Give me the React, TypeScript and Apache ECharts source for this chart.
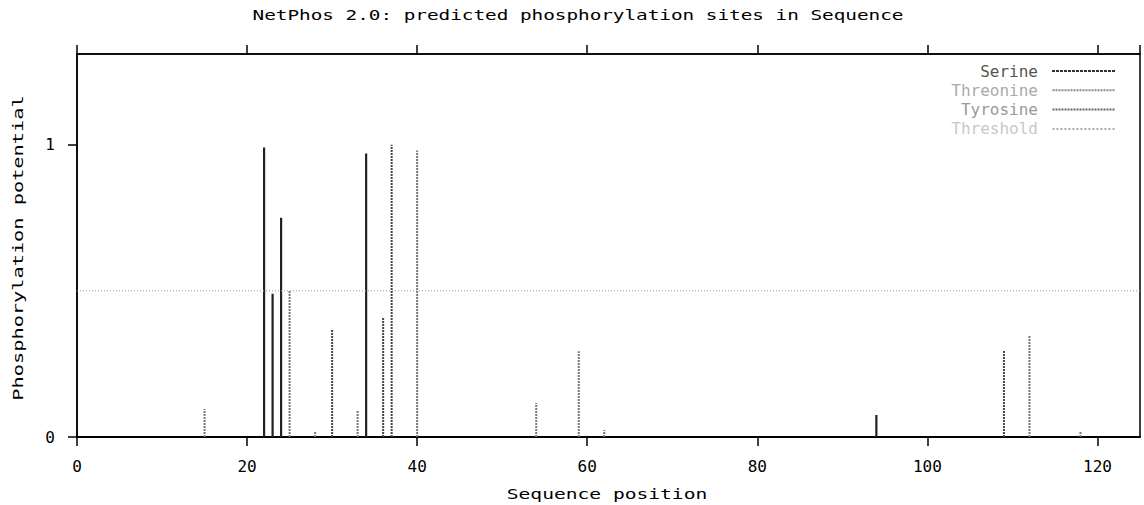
import React, { useEffect, useRef } from "react";
import * as echarts from "echarts";

const titleText = "NetPhos 2.0: predicted phosphorylation sites in Sequence";
const xName = "Sequence position";
const yName = "Phosphorylation potential";

const serinePos = [22, 23, 24, 34, 94];
const serineVal = [0.99, 0.49, 0.75, 0.97, 0.075];

const threoninePos = [15, 25, 28, 33, 40, 54, 59, 62, 112, 118];
const threonineVal = [0.096, 0.5, 0.02, 0.092, 0.98, 0.116, 0.293, 0.024, 0.348, 0.02];

const tyrosinePos = [30, 36, 37, 109];
const tyrosineVal = [0.367, 0.408, 1.0, 0.297];

const thresholdX = [0, 125];
const thresholdY = 0.5;

const seriesNames = ["Serine", "Threonine", "Tyrosine", "Threshold"];

function impulses(pos: number[], val: number[]) {
  const out: (number | null)[][] = [];
  pos.forEach((p, i) => {
    out.push([p, 0], [p, val[i]], [p, null]);
  });
  return out;
}

function dashIcon(step: number, dash: number) {
  let d = "path://";
  for (let x = 0; x + dash <= 64; x += step) {
    d += `M${x},0h${dash}v2h-${dash}z`;
  }
  return d;
}

const FONT = "DejaVu Sans Mono";

export default function App() {
  const ref = useRef<HTMLDivElement>(null);
  useEffect(() => {
    if (!ref.current) return;
    const chart = echarts.init(ref.current, undefined, { renderer: "svg" });
    chart.setOption({
      animation: false,
      backgroundColor: "#fff",
      grid: {
        left: 77,
        right: 4,
        top: 54,
        bottom: 68,
        show: true,
        borderColor: "#000",
        borderWidth: 1.5,
      },
      legend: {
        orient: "vertical",
        right: 24,
        top: 58,
        align: "right",
        itemWidth: 63,
        itemHeight: 2,
        itemGap: 3.3,
        textStyle: { fontFamily: FONT, fontSize: 16, padding: [0, 9, 0, 0] },
        data: [
          { name: seriesNames[0], icon: dashIcon(4, 3), textStyle: { color: "#555" } },
          { name: seriesNames[1], icon: dashIcon(3, 2), textStyle: { color: "#aaa" } },
          { name: seriesNames[2], icon: dashIcon(3, 2), textStyle: { color: "#999" } },
          { name: seriesNames[3], icon: dashIcon(4, 2), textStyle: { color: "#c8c8c8" } },
        ],
      },
      graphic: [
        {
          type: "text",
          x: 578,
          y: 15,
          scaleX: 1.38,
          style: {
            text: titleText,
            font: `14px "${FONT}"`,
            fill: "#000",
            textAlign: "center",
            textVerticalAlign: "middle",
          },
        },
        {
          type: "text",
          x: 607,
          y: 494,
          scaleX: 1.4,
          style: {
            text: xName,
            font: `14px "${FONT}"`,
            fill: "#000",
            textAlign: "center",
            textVerticalAlign: "middle",
          },
        },
        {
          type: "text",
          x: 18,
          y: 248,
          rotation: Math.PI / 2,
          scaleX: 1.45,
          style: {
            text: yName,
            font: `14px "${FONT}"`,
            fill: "#000",
            textAlign: "center",
            textVerticalAlign: "middle",
          },
        },
      ],
      xAxis: [
        {
          type: "value",
          position: "bottom",
          min: 0,
          max: 125,
          interval: 20,
          splitLine: { show: false },
          axisLine: { show: true, lineStyle: { color: "#000", width: 2 } },
          axisTick: { show: true, length: 9, lineStyle: { color: "#000", width: 1.5 } },
          axisLabel: {
            color: "#000",
            fontFamily: FONT,
            fontSize: 16,
            margin: 21,
            showMaxLabel: false,
          },
        },
        {
          type: "value",
          position: "top",
          min: 0,
          max: 125,
          interval: 20,
          splitLine: { show: false },
          axisLine: { show: true, lineStyle: { color: "#000", width: 1.5 } },
          axisTick: { show: true, length: 9, lineStyle: { color: "#000", width: 1.5 } },
          axisLabel: { show: false },
        },
      ],
      yAxis: [
        {
          type: "value",
          position: "left",
          min: 0,
          max: 1.31,
          interval: 1,
          splitLine: { show: false },
          axisLine: { show: true, lineStyle: { color: "#000", width: 1.5 } },
          axisTick: { show: true, length: 9, lineStyle: { color: "#000", width: 1.5 } },
          axisLabel: {
            color: "#000",
            fontFamily: FONT,
            fontSize: 16,
            margin: 22,
            showMaxLabel: false,
          },
        },
      ],
      series: [
        {
          name: seriesNames[0],
          type: "line",
          xAxisIndex: 0,
          symbol: "none",
          connectNulls: false,
          data: impulses(serinePos, serineVal),
          lineStyle: { color: "#222", width: 2.2, type: "solid" },
          itemStyle: { color: "#333" },
        },
        {
          name: seriesNames[1],
          type: "line",
          xAxisIndex: 0,
          symbol: "none",
          connectNulls: false,
          data: impulses(threoninePos, threonineVal),
          lineStyle: { color: "#777", width: 2, type: [2, 1] },
          itemStyle: { color: "#888" },
        },
        {
          name: seriesNames[2],
          type: "line",
          xAxisIndex: 0,
          symbol: "none",
          connectNulls: false,
          data: impulses(tyrosinePos, tyrosineVal),
          lineStyle: { color: "#444", width: 2, type: [2, 1] },
          itemStyle: { color: "#666" },
        },
        {
          name: seriesNames[3],
          type: "line",
          xAxisIndex: 0,
          symbol: "none",
          data: thresholdX.map((x) => [x, thresholdY]),
          lineStyle: { color: "#999", width: 1, type: [1, 2] },
          itemStyle: { color: "#aaa" },
        },
      ],
    });
    return () => chart.dispose();
  }, []);
  return (
    <div
      ref={ref}
      style={{ position: "absolute", left: 0, top: 0, width: 1144, height: 505, background: "#fff" }}
    />
  );
}
